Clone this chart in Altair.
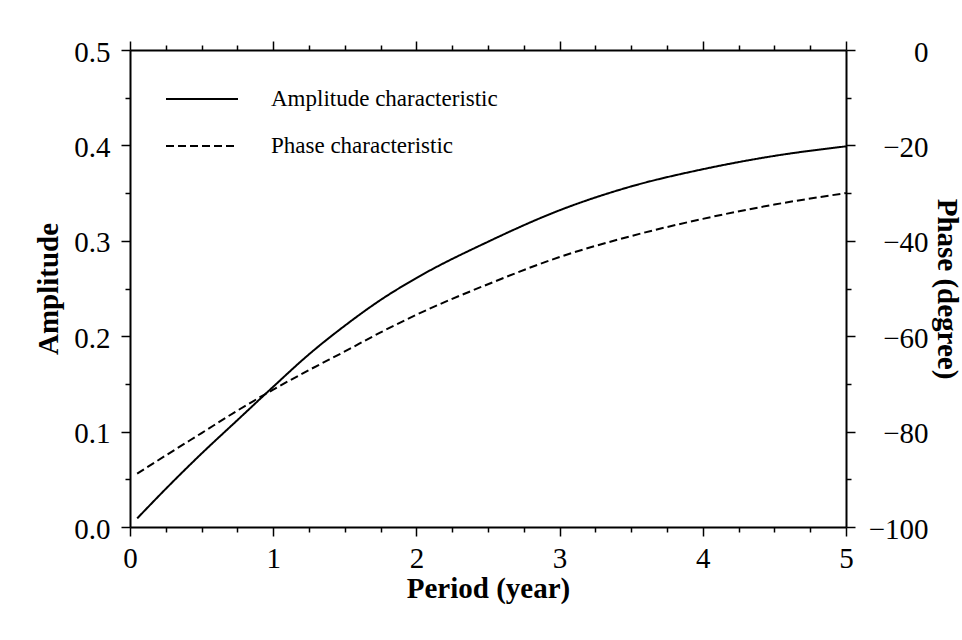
import altair as alt
import pandas as pd

# Period (year) sample points along the curves
period = [0.05, 0.25, 0.5, 0.75, 1.0, 1.25, 1.5, 1.75, 2.0, 2.5, 3.0, 3.5, 4.0, 4.5, 5.0]
# Amplitude characteristic (left axis)
amplitude = [0.009, 0.040, 0.077, 0.112, 0.147, 0.181, 0.211, 0.238, 0.261,
             0.299, 0.332, 0.357, 0.375, 0.389, 0.399]
# Phase characteristic in degrees (right axis)
phase = [-88.8, -85.0, -80.3, -75.6, -71.2, -67.1, -63.2, -59.2, -55.5,
         -49.1, -43.4, -39.0, -35.4, -32.4, -30.0]

series_names = ["Amplitude characteristic", "Phase characteristic"]

amp_df = pd.DataFrame({"period": period, "value": amplitude, "series": series_names[0]})
pha_df = pd.DataFrame({"period": period, "value": phase, "series": series_names[1]})

FONT = "Liberation Serif"

x_ticks = [i * 0.25 for i in range(21)]
amp_ticks = [round(i * 0.05, 2) for i in range(11)]
pha_ticks = [-100 + 10 * i for i in range(11)]

x_scale = alt.Scale(domain=[0, 5], nice=False, zero=False)

dash_scale = alt.Scale(domain=series_names, range=[[1, 0], [8, 4]])
legend = alt.Legend(
    title=None, orient="none", legendX=59, legendY=36, padding=0,
    symbolType="M-3,0H3", symbolSize=576, symbolStrokeWidth=2,
    symbolStrokeColor="black", symbolFillColor="transparent",
    labelFont=FONT, labelFontSize=23, labelColor="black", labelLimit=0,
    labelOffset=56, rowPadding=22,
)

x_bottom = alt.Axis(
    values=x_ticks, orient="bottom", title="Period (year)",
    tickSize={"condition": {"test": "datum.value % 1 === 0", "value": 9}, "value": 5},
    labelExpr="datum.value % 1 === 0 ? format(datum.value, 'd') : ''",
    labelPadding=8, labelFlush=False,
    titleX=358, titleY=70, titleBaseline="alphabetic", titleAlign="center",
)
x_top = alt.Axis(
    values=x_ticks, orient="top", title=None, labels=False,
    tickSize={"condition": {"test": "datum.value % 1 === 0", "value": 9}, "value": 5},
)

amp_major = "abs(datum.value * 10 - round(datum.value * 10)) < 1e-6"
y_left = alt.Axis(
    values=amp_ticks, orient="left", title="Amplitude",
    tickSize={"condition": {"test": amp_major, "value": 9}, "value": 5},
    labelExpr=f"{amp_major} ? format(datum.value, '.1f') : ''",
    labelPadding=11, labelOffset=2, labelFlush=False,
    titleAngle=270, titleX=-73, titleY=238.5,
    titleBaseline="alphabetic", titleAlign="center",
)
y_right = alt.Axis(
    values=pha_ticks, orient="right", title="Phase (degree)",
    tickSize={"condition": {"test": "datum.value % 20 === 0", "value": 9}, "value": 5},
    labelExpr="datum.value % 20 === 0 ? format(datum.value, 'd') : ''",
    labelAlign="right", labelPadding=73, labelOffset=2, labelFlush=False,
    titleAngle=90, titleX=91, titleY=238.5,
    titleBaseline="alphabetic", titleAlign="center",
)

amp_line = alt.Chart(amp_df).mark_line(
    color="black", strokeWidth=2, interpolate="monotone"
).encode(
    x=alt.X("period:Q", scale=x_scale, axis=x_bottom),
    y=alt.Y("value:Q", scale=alt.Scale(domain=[0, 0.5], nice=False, zero=False), axis=y_left),
    strokeDash=alt.StrokeDash("series:N", scale=dash_scale, legend=legend),
)

pha_line = alt.Chart(pha_df).mark_line(
    color="black", strokeWidth=2, interpolate="monotone"
).encode(
    x=alt.X("period:Q", scale=x_scale, axis=x_top),
    y=alt.Y("value:Q", scale=alt.Scale(domain=[-100, 0], nice=False, zero=False), axis=y_right),
    strokeDash=alt.StrokeDash("series:N", scale=dash_scale, legend=legend),
)

chart = alt.layer(amp_line, pha_line).resolve_scale(
    y="independent"
).resolve_axis(
    x="independent", y="independent"
).properties(
    width=716, height=477,
    autosize=alt.AutoSizeParams(type="none"),
    padding={"left": 130, "top": 50, "right": 116, "bottom": 113},
    background="white",
).configure_view(
    stroke=None
).configure_axis(
    labelFont=FONT, labelFontSize=29, labelColor="black",
    titleFont=FONT, titleFontSize=29, titleFontWeight="bold", titleColor="black",
    domainColor="black", domainWidth=2, tickColor="black", tickWidth=1.5,
    grid=False,
)

chart.save("out.html", embed_options={"renderer": "svg", "actions": False})
